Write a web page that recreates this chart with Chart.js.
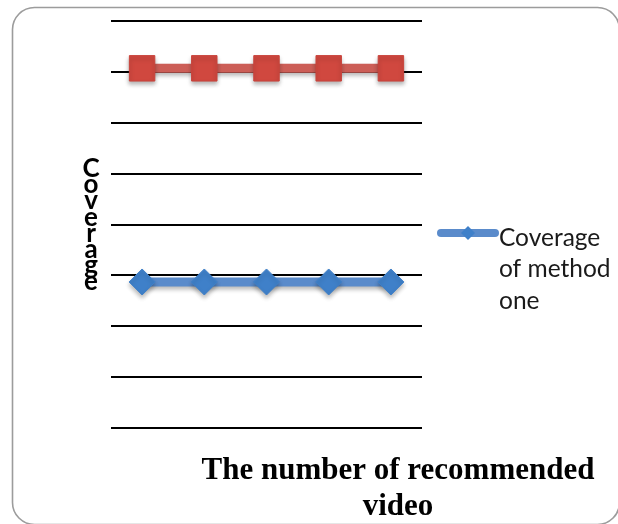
<!DOCTYPE html>
<html>
<head>
<meta charset="utf-8">
<title>Coverage</title>
<script src="https://cdn.jsdelivr.net/npm/chart.js@4.4.1/dist/chart.umd.min.js"></script>
<style>
  html, body { margin: 0; padding: 0; background: #ffffff; }
  #wrap { width: 618px; height: 524px; position: relative; }
</style>
</head>
<body>
<div id="wrap"><canvas id="chart" width="618" height="524"></canvas></div>
<script>
// Recommended-video counts along the horizontal axis
const categories = ['1', '2', '3', '4', '5'];
// Coverage values per method
const methodOne = [2.87, 2.87, 2.87, 2.87, 2.87];
const methodTwo = [7.07, 7.07, 7.07, 7.07, 7.07];
// Value axis range and gridline step
const yMin = 0;
const yMax = 8;
const yStep = 1;

const legendText = ['Coverage', 'of method', 'one'];
const yTitle = 'Coverage';
const xTitle = ['The number of recommended', 'video'];

// Rounded frame around the whole figure
const framePlugin = {
  id: 'frame',
  beforeDraw(chart) {
    const ctx = chart.ctx;
    ctx.save();
    ctx.fillStyle = '#ffffff';
    ctx.fillRect(0, 0, chart.width, chart.height);
    ctx.strokeStyle = '#9c9c9c';
    ctx.lineWidth = 1.6;
    ctx.beginPath();
    ctx.roundRect(12.5, 7.5, 607, 517, 22);
    ctx.stroke();
    ctx.restore();
  }
};

// Soft drop shadow beneath the series
const shadowPlugin = {
  id: 'seriesShadow',
  beforeDatasetDraw(chart) {
    const ctx = chart.ctx;
    ctx.save();
    ctx.shadowColor = 'rgba(0,0,0,0.28)';
    ctx.shadowBlur = 4;
    ctx.shadowOffsetY = 3;
  },
  afterDatasetDraw(chart) {
    chart.ctx.restore();
  }
};

// Axis titles and the single-entry legend
const textPlugin = {
  id: 'texts',
  afterDraw(chart) {
    const ctx = chart.ctx;
    const area = chart.chartArea;
    ctx.save();

    // vertical stacked y title
    ctx.fillStyle = '#000000';
    ctx.font = 'bold 26px Lato, "Open Sans", sans-serif';
    ctx.textAlign = 'center';
    ctx.textBaseline = 'alphabetic';
    const letters = yTitle.split('');
    letters.forEach((ch, i) => {
      ctx.fillText(ch, area.left - 20, 177 + i * 16.2);
    });

    // x title
    ctx.font = 'bold 31px "Liberation Serif", "Times New Roman", serif';
    ctx.textAlign = 'center';
    ctx.fillText(xTitle[0], 398, 479);
    ctx.fillText(xTitle[1], 398, 515);

    // legend for the first series
    const ds = chart.data.datasets[0];
    const ly = 233;
    ctx.strokeStyle = ds.borderColor;
    ctx.lineWidth = 8;
    ctx.lineCap = 'round';
    ctx.beginPath();
    ctx.moveTo(441, ly);
    ctx.lineTo(495, ly);
    ctx.stroke();
    ctx.fillStyle = ds.pointBackgroundColor;
    ctx.beginPath();
    ctx.moveTo(468 - 7, ly);
    ctx.lineTo(468, ly - 7);
    ctx.lineTo(468 + 7, ly);
    ctx.lineTo(468, ly + 7);
    ctx.closePath();
    ctx.fill();

    ctx.fillStyle = '#1a1a1a';
    ctx.font = '24.5px Lato, "Open Sans", sans-serif';
    ctx.textAlign = 'left';
    const baselines = [246, 277, 309];
    legendText.forEach((t, i) => ctx.fillText(t, 499, baselines[i]));

    ctx.restore();
  }
};

new Chart(document.getElementById('chart'), {
  type: 'line',
  data: {
    labels: categories,
    datasets: [
      {
        label: 'Coverage of method one',
        data: methodOne,
        borderColor: '#5a8bcb',
        borderWidth: 9,
        pointStyle: 'rectRot',
        pointRadius: 13,
        pointHoverRadius: 13,
        pointBackgroundColor: '#3f80c9',
        pointBorderColor: '#3f80c9',
        pointBorderWidth: 1,
        tension: 0
      },
      {
        label: 'Coverage of method two',
        data: methodTwo,
        borderColor: '#cc5e57',
        borderWidth: 9,
        pointStyle: 'rect',
        pointRadius: 18,
        pointHoverRadius: 18,
        pointBackgroundColor: '#d0483f',
        pointBorderColor: '#c9443c',
        pointBorderWidth: 1,
        tension: 0
      }
    ]
  },
  options: {
    responsive: false,
    animation: false,
    events: [],
    layout: { padding: { left: 111, right: 196, top: 21, bottom: 96 } },
    plugins: {
      legend: { display: false },
      tooltip: { enabled: false },
      title: { display: false }
    },
    scales: {
      x: {
        type: 'category',
        offset: true,
        display: false,
        grid: { display: false }
      },
      y: {
        min: yMin,
        max: yMax,
        ticks: { display: false, stepSize: yStep },
        border: { display: false },
        grid: { color: '#000000', lineWidth: 2, drawTicks: false }
      }
    }
  },
  plugins: [framePlugin, shadowPlugin, textPlugin]
});
</script>
</body>
</html>
